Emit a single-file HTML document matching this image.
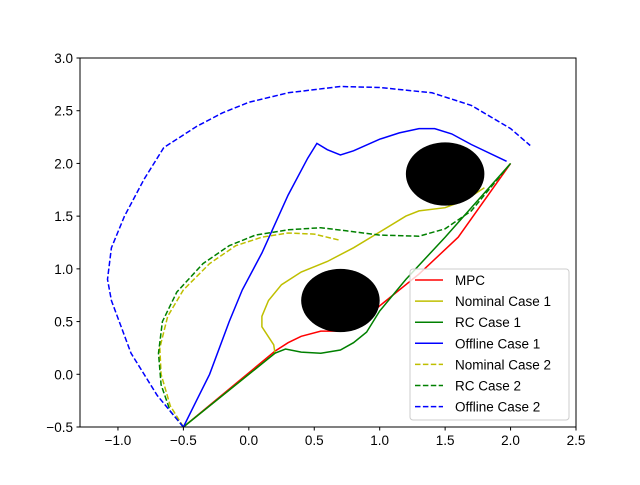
<!DOCTYPE html>
<html><head><meta charset="utf-8"><style>
html,body{margin:0;padding:0;background:#fff;}
svg text{font-family:"Liberation Sans","DejaVu Sans",sans-serif;font-size:13.5px;fill:#000;}
</style></head><body>
<svg id="chart" width="640" height="480" xmlns="http://www.w3.org/2000/svg"></svg>
<script>
const xTicks=[-1.0,-0.5,0.0,0.5,1.0,1.5,2.0,2.5];
const yTicks=[-0.5,0.0,0.5,1.0,1.5,2.0,2.5,3.0];
const obstacles=[[0.7,0.7,0.3],[1.5,1.9,0.3]];
const seriesNames=["MPC","Nominal Case 1","RC Case 1","Offline Case 1","Nominal Case 2","RC Case 2","Offline Case 2"];
const seriesColors=["#ff0000","#bfbf00","#008000","#0000ff","#bfbf00","#008000","#0000ff"];
const seriesDashed=[false,false,false,false,true,true,true];
const mpcX=[2.0,1.6,1.3,1.0,0.85,0.75,0.7,0.55,0.4,0.3,0.2,-0.5];
const mpcY=[2.0,1.3,0.95,0.65,0.48,0.42,0.41,0.41,0.36,0.3,0.22,-0.5];
const nom1X=[-0.5,0.2,0.19,0.1,0.1,0.15,0.25,0.4,0.6,0.8,1.0,1.2,1.3,1.5,1.65,1.8];
const nom1Y=[-0.5,0.2,0.28,0.45,0.55,0.7,0.85,0.97,1.07,1.2,1.35,1.5,1.55,1.58,1.65,1.77];
const rc1X=[2.0,1.5,1.2,1.0,0.9,0.8,0.7,0.55,0.4,0.28,0.2,-0.5];
const rc1Y=[2.0,1.3,0.9,0.6,0.4,0.3,0.23,0.2,0.21,0.24,0.2,-0.5];
const off1X=[-0.5,-0.4,-0.3,-0.15,-0.05,0.1,0.3,0.45,0.52,0.6,0.7,0.8,1.0,1.15,1.3,1.42,1.55,1.7,1.97];
const off1Y=[-0.5,-0.25,0.0,0.5,0.8,1.15,1.7,2.05,2.19,2.13,2.08,2.12,2.23,2.29,2.33,2.33,2.28,2.18,2.02];
const nom2X=[-0.5,-0.6,-0.67,-0.68,-0.62,-0.5,-0.3,-0.1,0.1,0.3,0.5,0.7];
const nom2Y=[-0.5,-0.3,0.0,0.25,0.55,0.8,1.05,1.22,1.3,1.34,1.33,1.27];
const rc2X=[-0.5,-0.6,-0.67,-0.69,-0.66,-0.55,-0.35,-0.15,0.05,0.3,0.55,0.75,1.0,1.3,1.5,1.7,2.0];
const rc2Y=[-0.5,-0.35,-0.1,0.2,0.5,0.78,1.05,1.22,1.32,1.37,1.39,1.36,1.32,1.31,1.38,1.55,2.0];
const off2X=[-0.5,-0.7,-0.9,-1.05,-1.08,-1.05,-0.95,-0.8,-0.65,-0.4,-0.2,0.0,0.3,0.7,1.0,1.4,1.7,2.0,2.15];
const off2Y=[-0.5,-0.2,0.2,0.7,0.9,1.2,1.5,1.85,2.15,2.35,2.48,2.58,2.67,2.73,2.72,2.67,2.55,2.33,2.17];
const seriesX=[mpcX,nom1X,rc1X,off1X,nom2X,rc2X,off2X];
const seriesY=[mpcY,nom1Y,rc1Y,off1Y,nom2Y,rc2Y,off2Y];

const L=80,R=576,T=58,B=427,xmin=-1.29,xmax=2.5,ymin=-0.5,ymax=3.0;
const sx=v=>L+(v-xmin)/(xmax-xmin)*(R-L);
const sy=v=>B-(v-ymin)/(ymax-ymin)*(B-T);
const NS="http://www.w3.org/2000/svg";
const svg=document.getElementById('chart');
function mk(tag,attrs,parent){const e=document.createElementNS(NS,tag);for(const k in attrs)e.setAttribute(k,attrs[k]);(parent||svg).appendChild(e);return e;}

const clip=mk('clipPath',{id:'pc'});mk('rect',{x:L,y:T,width:R-L,height:B-T},clip);
const plot=mk('g',{'clip-path':'url(#pc)'});


seriesX.forEach((xs,i)=>{
  const d=xs.map((x,j)=>(j?'L':'M')+sx(x).toFixed(1)+' '+sy(seriesY[i][j]).toFixed(1)).join(' ');
  const p=mk('path',{d:d,fill:'none',stroke:seriesColors[i],'stroke-width':1.5,'stroke-dasharray':seriesDashed[i]?'5.5,2.4':'none'},plot);
  
  
});
obstacles.forEach((o,i)=>{
  const e=mk('ellipse',{cx:sx(o[0]),cy:sy(o[1]),rx:o[2]/(xmax-xmin)*(R-L),ry:o[2]/(ymax-ymin)*(B-T),fill:'#000'},plot);
  
  
});
const frame=mk('rect',{x:L,y:T,width:R-L,height:B-T,fill:'none',stroke:'#000','stroke-width':1});


xTicks.forEach(v=>{
  const x=sx(v);mk('line',{x1:x,x2:x,y1:B,y2:B+3.5,stroke:'#000'});
  const t=mk('text',{x:x,y:B+18,'text-anchor':'middle'});t.textContent=v.toFixed(1).replace('-','−');
  
  
});
yTicks.forEach(v=>{
  const y=sy(v);mk('line',{x1:L-3.5,x2:L,y1:y,y2:y,stroke:'#000'});
  const t=mk('text',{x:L-7,y:y+5,'text-anchor':'end'});t.textContent=v.toFixed(1).replace('-','−');
  
  
});
const lg=mk('g',{});


mk('rect',{x:410,y:269,width:159,height:151,rx:3,fill:'#fff','fill-opacity':0.8,stroke:'#ccc'},lg);
seriesNames.forEach((n,i)=>{
  const y=280+i*21.1;
  mk('line',{x1:415,x2:443,y1:y,y2:y,stroke:seriesColors[i],'stroke-width':1.5,'stroke-dasharray':seriesDashed[i]?'5.5,2.4':'none'},lg);
  const t=mk('text',{x:455,y:y+5},lg);t.textContent=n;
  
  
});
</script>
</body></html>
